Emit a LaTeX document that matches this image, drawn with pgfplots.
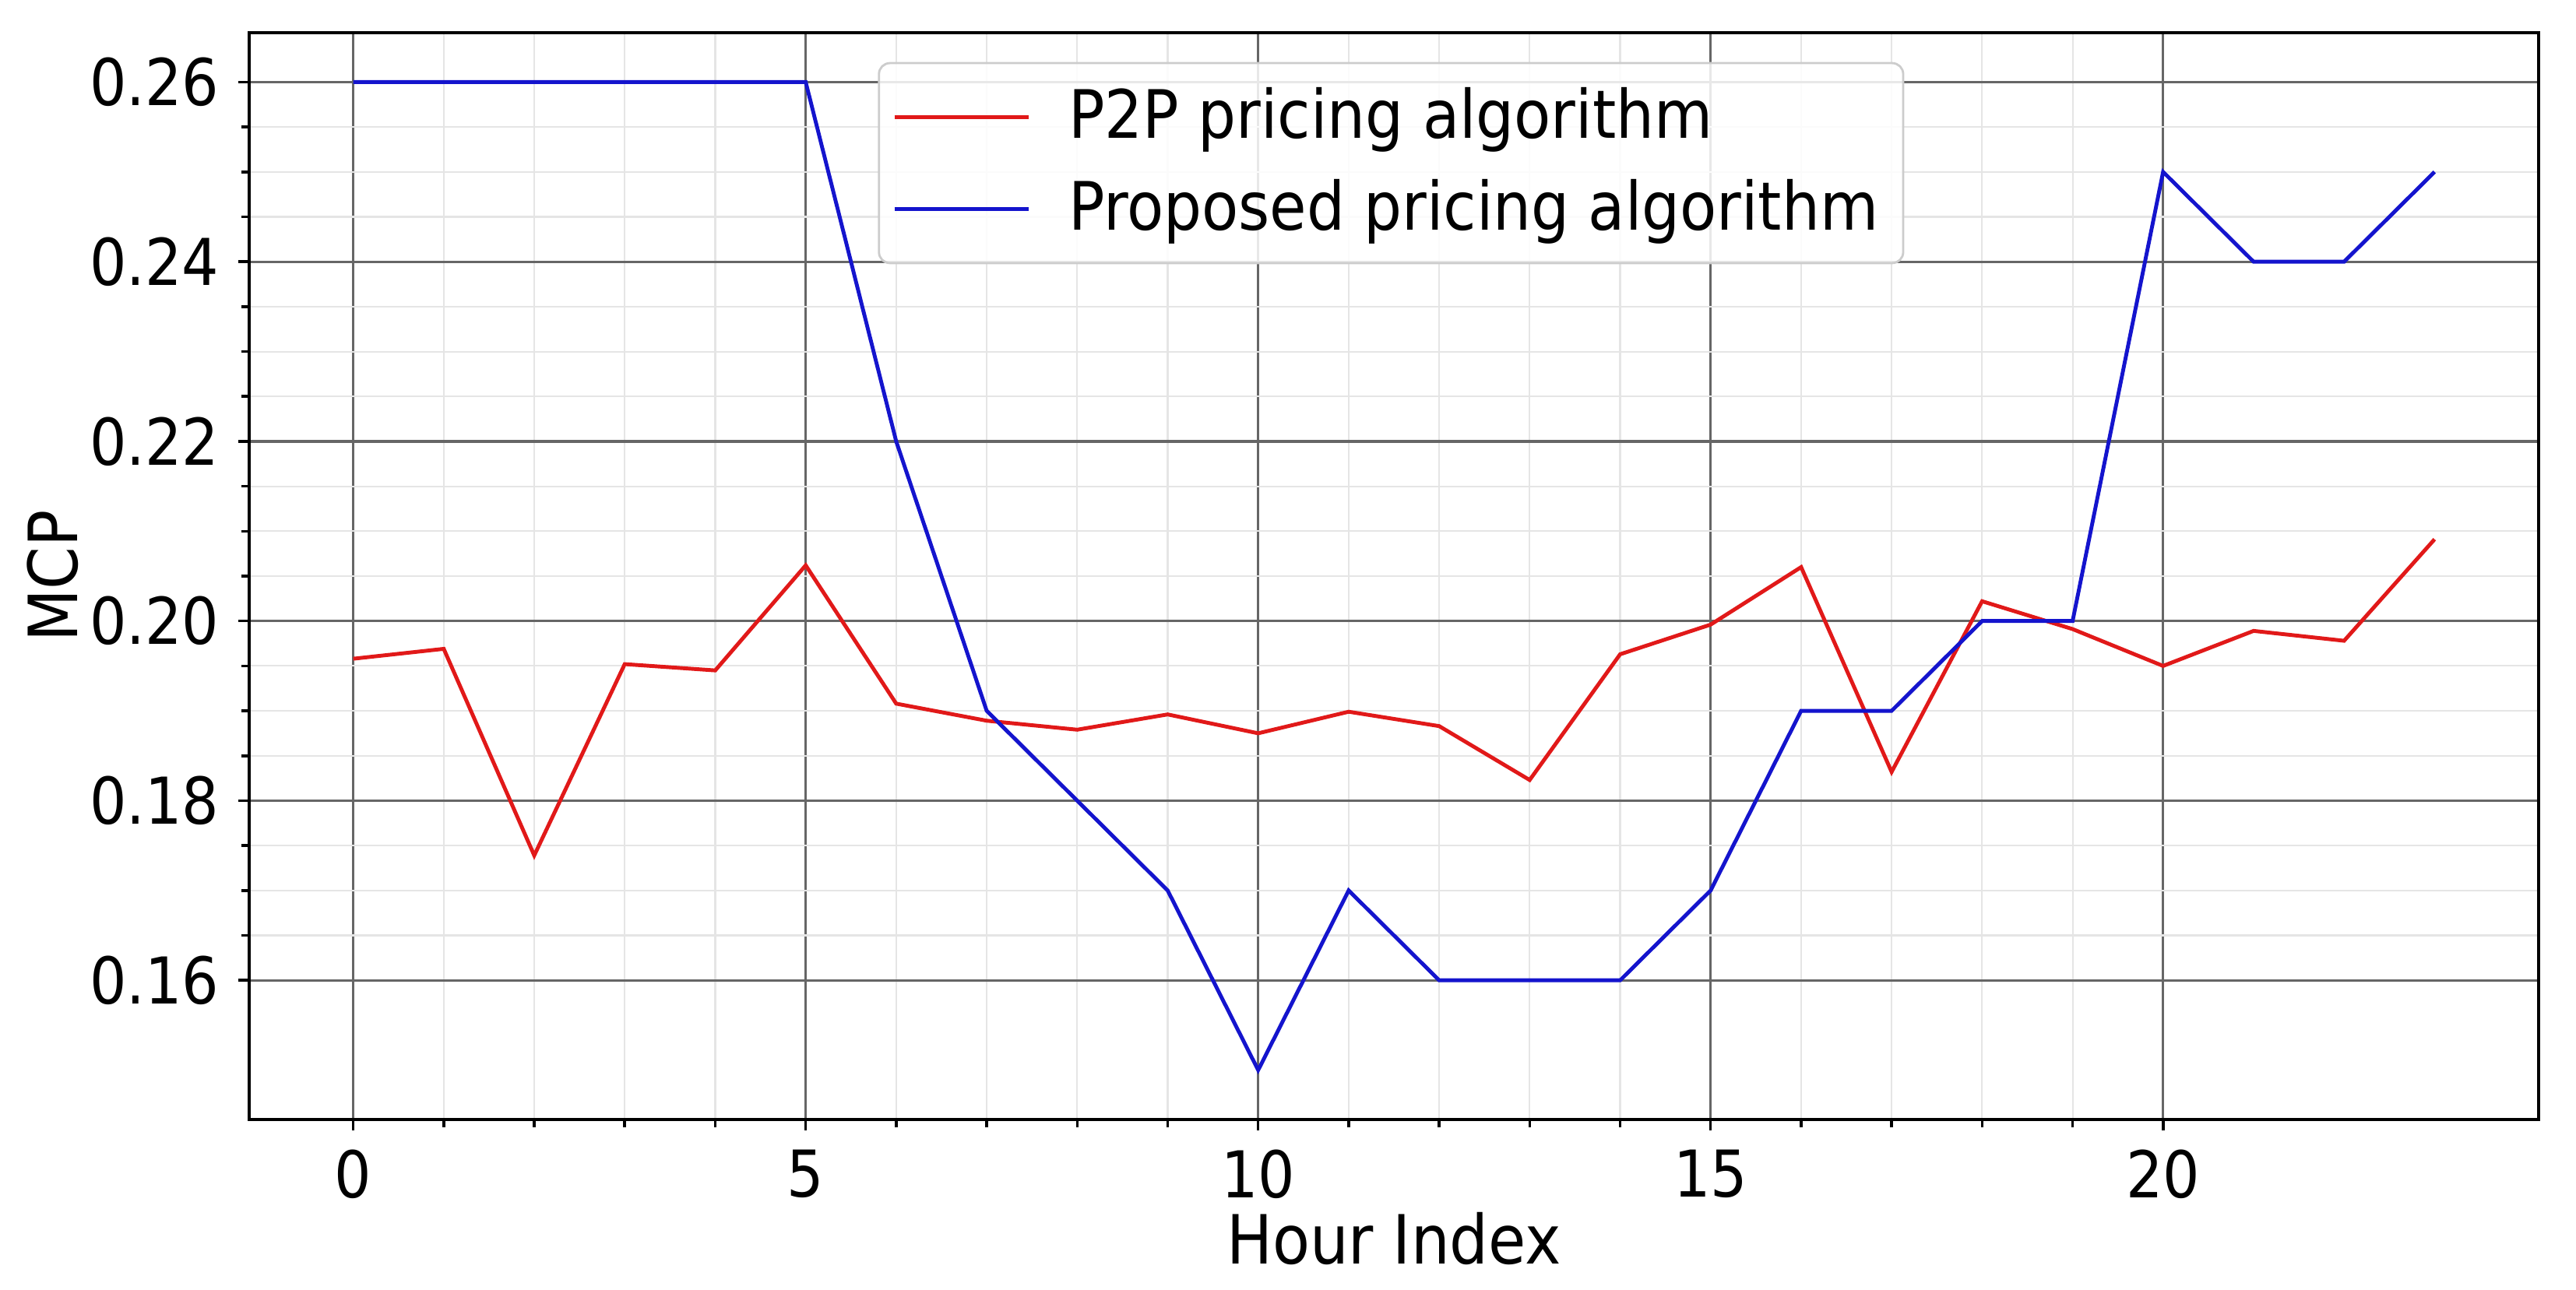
\documentclass[border=0pt]{standalone}
\usepackage{fontspec}
\setmainfont{DejaVu Sans Condensed}
\usepackage{pgfplots}
\pgfplotsset{compat=1.18}
\definecolor{lred}{RGB}{225,25,25}
\definecolor{lblue}{RGB}{20,20,205}
\begin{document}
\begin{tikzpicture}
\begin{axis}[
  name=ax,
  at={(0,0)}, anchor=south west,
  scale only axis,
  width=14.70cm, height=6.98cm,
  xmin=-1.15, xmax=24.15,
  ymin=0.1445, ymax=0.2655,
  xtick={0,5,10,15,20},
  ytick={0.16,0.18,0.20,0.22,0.24,0.26},
  minor x tick num=4,
  minor y tick num=3,
  tick pos=left,
  tick align=outside,
  major tick length=0.07cm,
  minor tick length=0.05cm,
  every tick/.style={black, line width=0.5pt},
  grid=both,
  major grid style={line width=0.45pt, color=black!60},
  minor grid style={line width=0.3pt, color=black!10},
  axis line style={line width=0.6pt, black},
  /pgf/number format/assume math mode=true,
  yticklabel style={/pgf/number format/fixed, /pgf/number format/fixed zerofill, /pgf/number format/precision=2, font=\fontsize{11.8}{13}\selectfont},
  xticklabel style={font=\fontsize{11.8}{13}\selectfont},
  scaled y ticks=false,
  xlabel={Hour Index},
  ylabel={MCP},
  label style={font=\fontsize{12.4}{14}\selectfont},
  xlabel style={at={(axis description cs:0.5,-0.068)}, anchor=north},
  ylabel style={at={(axis description cs:-0.066,0.5)}, anchor=south},
  legend style={at={(axis description cs:0.2746,0.973)}, anchor=north west,
    font=\fontsize{12.2}{14}\selectfont, draw=black!20, rounded corners=2pt,
    fill=white, fill opacity=0.85, text opacity=1, inner sep=2.5pt, row sep=2pt},
  legend image code/.code={\draw[#1] (0cm,0cm) -- (0.86cm,0cm);},
  legend cell align=left,
]
\addplot[lred, line width=0.7pt] coordinates {
(0,0.1958) (1,0.1969) (2,0.1739) (3,0.1952) (4,0.1945) (5,0.2062) (6,0.1908) (7,0.1889)
(8,0.1879) (9,0.1896) (10,0.1875) (11,0.1899) (12,0.1883) (13,0.1823) (14,0.1963) (15,0.1996)
(16,0.2060) (17,0.1832) (18,0.2022) (19,0.1991) (20,0.1950) (21,0.1989) (22,0.1978) (23,0.2091)};
\addlegendentry{\hspace{0.175cm}P2P pricing algorithm}
\addplot[lblue, line width=0.7pt] coordinates {
(0,0.26) (1,0.26) (2,0.26) (3,0.26) (4,0.26) (5,0.26) (6,0.22) (7,0.19)
(8,0.18) (9,0.17) (10,0.15) (11,0.17) (12,0.16) (13,0.16) (14,0.16) (15,0.17)
(16,0.19) (17,0.19) (18,0.20) (19,0.20) (20,0.25) (21,0.24) (22,0.24) (23,0.25)};
\addlegendentry{\hspace{0.175cm}Proposed pricing algorithm}
\end{axis}
\pgfresetboundingbox
\path[use as bounding box] (-1.60,-1.09) rectangle (14.94,7.19);
\end{tikzpicture}
\end{document}
